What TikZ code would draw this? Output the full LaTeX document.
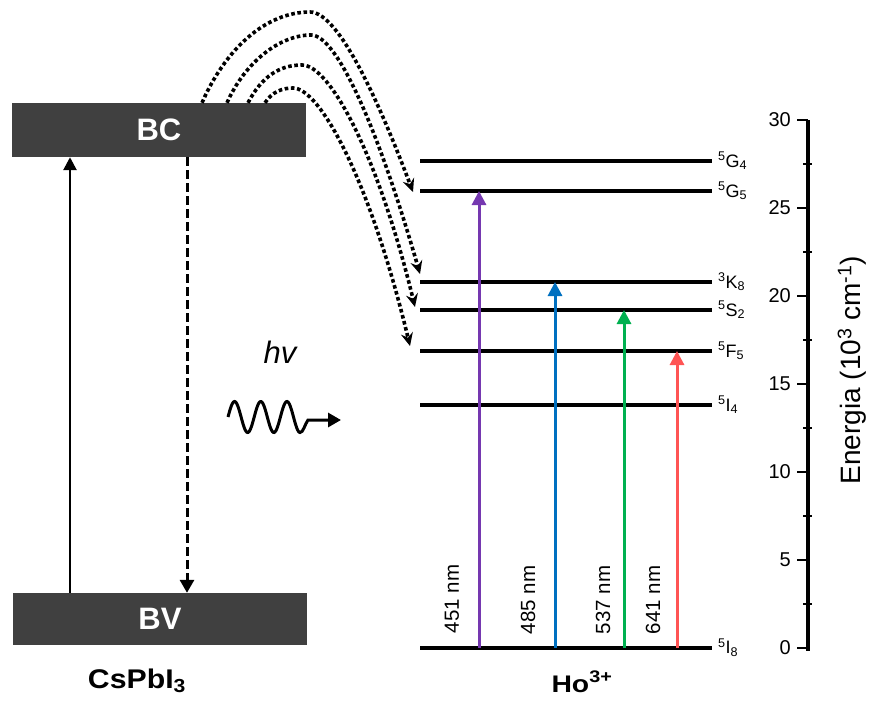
\documentclass[tikz,border=0pt]{standalone}
\usepackage{fontspec}
\setmainfont{Liberation Sans}
\usetikzlibrary{arrows.meta}
\definecolor{bandgray}{RGB}{64,64,64}
\definecolor{cpurple}{RGB}{117,56,176}
\definecolor{cblue}{RGB}{0,112,192}
\definecolor{cgreen}{RGB}{0,176,80}
\definecolor{cred}{RGB}{255,84,84}
\tikzset{
  bandbox/.style={fill=bandgray, draw=none, inner sep=0pt, minimum width=294pt,
    text=white, font=\fontsize{31}{36}\selectfont\bfseries},
  lvlline/.style={line width=3.2pt},
  lvllabel/.style={anchor=west, inner sep=0pt, font=\fontsize{18}{21}\selectfont},
  nmlabel/.style={rotate=90, inner sep=0pt, font=\fontsize{20.5}{24}\selectfont},
  ticklabel/.style={anchor=east, inner sep=0pt, font=\fontsize{20}{24}\selectfont},
  transarrow/.style={line width=3pt, -{Triangle[length=14pt,width=14pt]}},
  dotarrow/.style={line width=3.6pt, dash pattern=on 3.6pt off 2.6pt,
    -{Stealth[length=13pt,width=12pt,inset=4.5pt]}},
  solidarrow/.style={line width=2.6pt, -{Triangle[length=13pt,width=13pt]}},
  dasharrow/.style={line width=3pt, dash pattern=on 9pt off 4pt,
    -{Triangle[length=13pt,width=14pt]}},
  axisline/.style={line width=3.2pt},
}
\begin{document}
\begin{tikzpicture}[x=1pt,y=-1pt]
\useasboundingbox (0,0) rectangle (869,701);

% bands
\node[bandbox, minimum height=54pt] (BC) at (159,130) {BC};
\node[bandbox, minimum height=52pt] (BV) at (160,619) {BV};
\node[anchor=base, inner sep=0pt, xscale=1.12, font=\fontsize{27}{32}\selectfont\bfseries] (cs) at (137,688) {CsPbI\textsubscript{3}};

% vertical transitions in the perovskite
\coordinate (upx) at (70,0);
\coordinate (dnx) at (187,0);
\draw[solidarrow] (BV.north -| upx) -- (BC.south -| upx);
\draw[dasharrow] (BC.south -| dnx) -- (BV.north -| dnx);

% photon
\node[inner sep=0pt, font=\fontsize{31}{36}\selectfont\itshape] (hv) at (280,352) {hv};
\coordinate (wend) at (341,420);
\draw[line width=3pt, -{Triangle[length=13pt,width=14pt]}]
  plot[domain=0:72, samples=90, smooth] ({228+\x},{417-15.5*sin(\x/26.2*360)})
  .. controls (303,433) and (305,424) .. (308,420) -- (wend);

% Ho levels
\foreach \n/\y/\t in {
  G4/161/{\textsuperscript{5}G\textsubscript{4}},
  G5/191/{\textsuperscript{5}G\textsubscript{5}},
  K8/282/{\textsuperscript{3}K\textsubscript{8}},
  S2/310/{\textsuperscript{5}S\textsubscript{2}},
  F5/351/{\textsuperscript{5}F\textsubscript{5}},
  I4/405/{\textsuperscript{5}I\textsubscript{4}},
  I8/648/{\textsuperscript{5}I\textsubscript{8}}} {
  \coordinate (\n-l) at (420,\y);
  \coordinate (\n-r) at (712,\y);
  \draw[lvlline] (\n-l) -- (\n-r);
  \node[lvllabel] (\n) at (718,\y) {\t};
}
\node[anchor=base, inner sep=0pt, xscale=1.18, font=\fontsize{24}{28}\selectfont\bfseries] (ho) at (582,692) {Ho\textsuperscript{3+}};

% emission arrows
\coordinate (x451) at (479,0);
\coordinate (x485) at (555,0);
\coordinate (x537) at (624,0);
\coordinate (x641) at (677,0);
\draw[transarrow, cpurple] (I8-l -| x451) -- (G5-l -| x451);
\draw[transarrow, cblue] (I8-l -| x485) -- (K8-l -| x485);
\draw[transarrow, cgreen] (I8-l -| x537) -- (S2-l -| x537);
\draw[transarrow, cred] (I8-l -| x641) -- (F5-l -| x641);
\node[nmlabel] (n451) at (452,599) {451 nm};
\node[nmlabel] (n485) at (528,600) {485 nm};
\node[nmlabel] (n537) at (603,600) {537 nm};
\node[nmlabel] (n641) at (653,600) {641 nm};

% energy transfer (dotted)
\coordinate (s1) at (202,0);
\coordinate (s2) at (227,0);
\coordinate (s3) at (248,0);
\coordinate (s4) at (265,0);
\coordinate (e1) at (413,192);
\coordinate (e2) at (420,274);
\coordinate (e3) at (415,307);
\coordinate (e4) at (410,346);
\draw[dotarrow] (BC.north -| s1) .. controls (225,50) and (265,12) .. (310,12)
  .. controls (340,12) and (382,110) .. (e1);
\draw[dotarrow] (BC.north -| s2) .. controls (245,62) and (280,35) .. (311,35)
  .. controls (338,35) and (380,135) .. (e2);
\draw[dotarrow] (BC.north -| s3) .. controls (262,76) and (280,65) .. (302,65)
  .. controls (330,65) and (378,155) .. (e3);
\draw[dotarrow] (BC.north -| s4) .. controls (272,92) and (282,88) .. (293,88)
  .. controls (320,88) and (370,180) .. (e4);

% energy axis
\draw[axisline] (808,120) -- (808,651);
\foreach \v in {0,5,...,30} {
  \draw[line width=2.6pt] (797,{648-17.6*\v}) -- (808,{648-17.6*\v});
  \node[ticklabel] at (791,{648-17.6*\v}) {\v};
}
\foreach \v in {2.5,7.5,...,27.5} {
  \draw[line width=2.6pt] (803,{648-17.6*\v}) -- (812,{648-17.6*\v});
}
\node[rotate=90, inner sep=0pt, font=\fontsize{28}{32}\selectfont] (elab) at (852,370) {Energia (10\textsuperscript{3} cm\textsuperscript{-1})};
\end{tikzpicture}
\end{document}
